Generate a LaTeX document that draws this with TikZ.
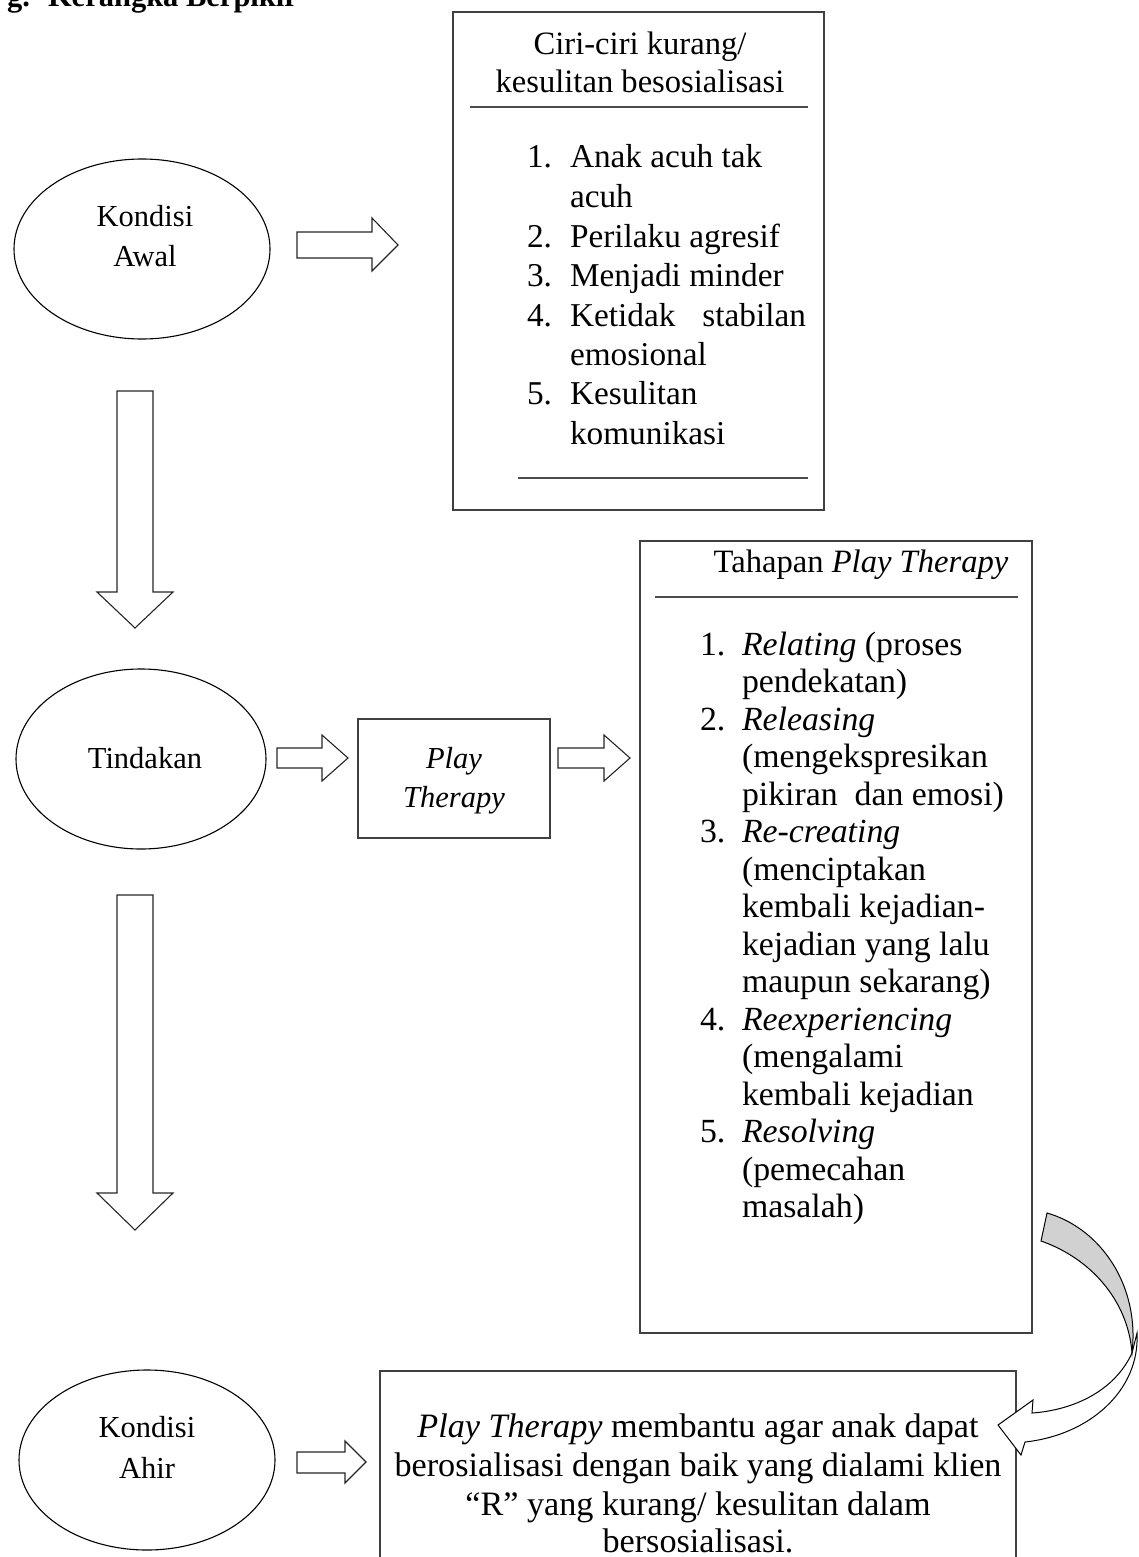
\documentclass[tikz,border=0pt]{standalone}
\usepackage{fontspec}
\setmainfont{Liberation Serif}
\usetikzlibrary{shapes.geometric}
\begin{document}
\begin{tikzpicture}[x=1pt,y=-1pt,
  every node/.style={inner sep=0pt, outer sep=0pt, font=\fontsize{30.5}{39.5}\selectfont},
  frame/.style={draw=black!75, line width=1.3pt, rectangle, anchor=north west},
  oval/.style={draw=black, ellipse, line width=1.1pt, minimum width=256pt, minimum height=180pt},
  blockarrow/.style={draw=black!85, fill=white, line width=1.1pt, line join=miter},
  rulel/.style={draw=black!70, line width=1.2pt},
  txt/.style={anchor=base west},
  ctxt/.style={anchor=base},
  ciritxt/.style={font=\fontsize{33.3}{39.5}\selectfont},
  tahtxt/.style={font=\fontsize{33.8}{37.5}\selectfont},
  bottxt/.style={font=\fontsize{34.2}{39}\selectfont},
  titletxt/.style={font=\fontsize{32.6}{39}\selectfont},
]
\useasboundingbox (0,0) rectangle (1139,1557);
\clip (0,0) rectangle (1139,1557);

% header (cut off at the top)
\node[txt, font=\fontsize{30.5}{39.5}\selectfont\bfseries] (hdrg) at (7,7) {g.};
\node[txt, font=\fontsize{30.5}{39.5}\selectfont\bfseries] (hdr) at (48,7) {Kerangka Berpikir};

% ellipses
\node[oval] (awal) at (142,249) {};
\node[ctxt] (awal1) at (145,226) {Kondisi};
\node[ctxt] (awal2) at (145,266) {Awal};

\node[oval, minimum width=250pt] (tind) at (141,759) {};
\node[ctxt] (tind1) at (145,768) {Tindakan};

\node[oval] (ahir) at (147,1460) {};
\node[ctxt] (ahir1) at (147,1437) {Kondisi};
\node[ctxt] (ahir2) at (147,1478) {Ahir};

% top box
\node[frame, minimum width=371pt, minimum height=498pt] (ciri) at (453,12) {};
\node[ctxt, titletxt] (ciriT1) at (640,55) {Ciri-ciri kurang/};
\node[ctxt, titletxt] (ciriT2) at (640,93) {kesulitan besosialisasi};
\draw[rulel] (470,107) -- (808,107);
\begin{scope}[every node/.append style={ciritxt}]
\node[txt] (c1n) at (527,168) {1.};
\node[txt] (c1a) at (570,168) {Anak acuh tak};
\node[txt] (c1b) at (570,207.5) {acuh};
\node[txt] (c2n) at (527,247) {2.};
\node[txt] (c2a) at (570,247) {Perilaku agresif};
\node[txt] (c3n) at (527,286.5) {3.};
\node[txt] (c3a) at (570,286.5) {Menjadi minder};
\node[txt] (c4n) at (527,326) {4.};
\node[txt] (c4a) at (570,326) {\hbox to 236pt{Ketidak\hfill stabilan}};
\node[txt] (c4b) at (570,365) {emosional};
\node[txt] (c5n) at (527,404.5) {5.};
\node[txt] (c5a) at (570,404.5) {Kesulitan};
\node[txt] (c5b) at (570,444) {komunikasi};
\end{scope}
\draw[rulel] (518,478) -- (808,478);

% play therapy box
\node[frame, minimum width=192pt, minimum height=119pt] (play) at (358,719) {};
\node[ctxt] (play1) at (454,768) {\itshape Play};
\node[ctxt] (play2) at (454,807) {\itshape Therapy};

% tahapan box
\node[frame, minimum width=392pt, minimum height=792pt] (tah) at (640,541) {};
\node[ctxt, titletxt] (tahT) at (861,572) {Tahapan \textit{Play Therapy}};
\draw[rulel] (655,597) -- (1018,597);
\begin{scope}[every node/.append style={tahtxt}]
\node[txt] (t1n) at (700,655) {1.};
\node[txt] (t1a) at (742,655) {\textit{Relating} (proses};
\node[txt] (t1b) at (742,692.5) {pendekatan)};
\node[txt] (t2n) at (700,730) {2.};
\node[txt] (t2a) at (742,730) {\textit{Releasing}};
\node[txt] (t2b) at (742,767.5) {(mengekspresikan};
\node[txt] (t2c) at (742,805) {pikiran\ \ dan emosi)};
\node[txt] (t3n) at (700,842.5) {3.};
\node[txt] (t3a) at (742,842.5) {\textit{Re-creating}};
\node[txt] (t3b) at (742,880) {(menciptakan};
\node[txt] (t3c) at (742,917.5) {kembali kejadian-};
\node[txt] (t3d) at (742,955) {kejadian yang lalu};
\node[txt] (t3e) at (742,992.5) {maupun sekarang)};
\node[txt] (t4n) at (700,1030) {4.};
\node[txt] (t4a) at (742,1030) {\textit{Reexperiencing}};
\node[txt] (t4b) at (742,1067.5) {(mengalami};
\node[txt] (t4c) at (742,1105) {kembali kejadian};
\node[txt] (t5n) at (700,1142.5) {5.};
\node[txt] (t5a) at (742,1142.5) {\textit{Resolving}};
\node[txt] (t5b) at (742,1180) {(pemecahan};
\node[txt] (t5c) at (742,1217.5) {masalah)};
\end{scope}

% bottom box (open at the bottom)
\coordinate (bl) at (380,1600);
\coordinate (br) at (1016,1600);
\draw[draw=black!75, line width=1.3pt] (bl) -- (380,1371) -- (1016,1371) -- (br);
\begin{scope}[every node/.append style={bottxt}]
\node[ctxt] (b1) at (698,1437) {\textit{Play Therapy} membantu agar anak dapat};
\node[ctxt] (b2) at (698,1476) {berosialisasi dengan baik yang dialami klien};
\node[ctxt] (b3) at (698,1515) {“R” yang kurang/ kesulitan dalam};
\node[ctxt] (b4) at (698,1552) {bersosialisasi.};
\end{scope}

% block arrows
\draw[blockarrow] (297,232) -- (372,232) -- (372,218) -- (398,245) -- (372,271) -- (372,258) -- (297,258) -- cycle;
\draw[blockarrow] (277,748) -- (322,748) -- (322,735) -- (348,758) -- (322,781) -- (322,768) -- (277,768) -- cycle;
\draw[blockarrow] (558,748) -- (604,748) -- (604,735) -- (630,758) -- (604,781) -- (604,768) -- (558,768) -- cycle;
\draw[blockarrow] (297,1452) -- (345,1452) -- (345,1441) -- (366,1462) -- (345,1483) -- (345,1473) -- (297,1473) -- cycle;
\draw[blockarrow] (117,391) -- (153,391) -- (153,592) -- (173,592) -- (135,628) -- (97,592) -- (117,592) -- cycle;
\draw[blockarrow] (117,895) -- (153,895) -- (153,1193) -- (173,1193) -- (135,1230) -- (97,1193) -- (117,1193) -- cycle;

% curved arrow
\coordinate (cA) at (1047,1213);
\coordinate (cB) at (1041,1241);
\coordinate (cT) at (1132,1353);
\coordinate (cO) at (1137,1333);
\draw[fill=white, line width=1pt] (cT) .. controls (1115,1390) and (1075,1410) .. (1032,1413)
  -- (1033,1400) -- (998,1425) -- (1021,1455) -- (1025,1442)
  .. controls (1090,1435) and (1140,1390) .. (cO) -- cycle;
\draw[fill=black!18, line width=1pt] (cA) .. controls (1100,1228) and (1140,1285) .. (cT)
  .. controls (1128,1300) and (1090,1258) .. (cB) -- cycle;
\end{tikzpicture}
\end{document}
